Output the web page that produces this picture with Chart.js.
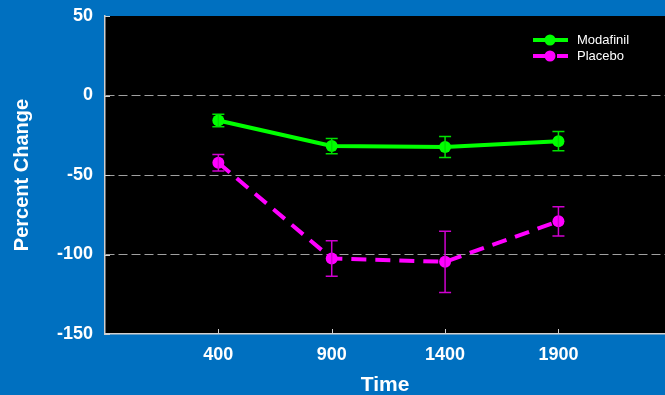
<!DOCTYPE html>
<html>
<head>
<meta charset="utf-8">
<script src="https://cdn.jsdelivr.net/npm/chart.js@4/dist/chart.umd.min.js"></script>
<style>
  html, body { margin: 0; padding: 0; background: #0070c0; overflow: hidden; }
  #wrap { width: 665px; height: 395px; overflow: hidden; }
</style>
</head>
<body>
<div id="wrap"><canvas id="c" width="671" height="395"></canvas></div>
<script>
// Time points (x) and percent change (mean, +/- error) for each group
const times = [400, 900, 1400, 1900];
const modafinilMean = [-15.7, -31.8, -32.4, -28.7];
const modafinilErr = [3.9, 4.8, 6.6, 6.1];
const placeboMean = [-42.3, -102.5, -104.6, -79.1];
const placeboErr = [5.2, 11.2, 19.3, 9.2];
const xTickValues = [400, 900, 1400, 1900];
const yTickValues = [50, 0, -50, -100, -150];

const FONT = "'Liberation Sans', Arial, sans-serif";

const toPoints = (xs, ys) => xs.map((x, i) => ({ x: x, y: ys[i] }));

// Black plot background, inward tick marks and error bars
const plotDecor = {
  id: 'plotDecor',
  beforeDraw(chart) {
    const { ctx, chartArea: a } = chart;
    ctx.save();
    ctx.fillStyle = '#000000';
    ctx.fillRect(a.left, a.top, a.right - a.left, a.bottom - a.top);
    ctx.restore();
  },
  afterDatasetsDraw(chart) {
    const { ctx, chartArea: a, scales } = chart;
    ctx.save();
    // small tick marks pointing into the plot
    ctx.strokeStyle = '#d0d0d0';
    ctx.lineWidth = 1;
    xTickValues.forEach(v => {
      const px = Math.round(scales.x.getPixelForValue(v)) + 0.5;
      ctx.beginPath();
      ctx.moveTo(px, a.bottom);
      ctx.lineTo(px, a.bottom - 5);
      ctx.stroke();
    });
    yTickValues.forEach(v => {
      const py = Math.round(scales.y.getPixelForValue(v)) + 0.5;
      ctx.beginPath();
      ctx.moveTo(a.left, py);
      ctx.lineTo(a.left + 5, py);
      ctx.stroke();
    });
    // error bars
    chart.data.datasets.forEach(ds => {
      ctx.strokeStyle = ds.errColor;
      ctx.lineWidth = 1.5;
      ds.data.forEach((p, i) => {
        const px = scales.x.getPixelForValue(p.x);
        const top = scales.y.getPixelForValue(p.y + ds.err[i]);
        const bot = scales.y.getPixelForValue(p.y - ds.err[i]);
        ctx.beginPath();
        ctx.moveTo(px, top); ctx.lineTo(px, bot);
        ctx.moveTo(px - 6, top); ctx.lineTo(px + 6, top);
        ctx.moveTo(px - 6, bot); ctx.lineTo(px + 6, bot);
        ctx.stroke();
      });
    });
    ctx.restore();
  },
  afterDraw(chart) {
    // legend in the upper right of the plot
    const { ctx } = chart;
    ctx.save();
    ctx.font = '13px ' + FONT;
    ctx.textBaseline = 'middle';
    chart.data.datasets.forEach((ds, i) => {
      const y = 40 + i * 16;
      ctx.strokeStyle = ds.borderColor;
      ctx.lineWidth = 4;
      ctx.setLineDash(ds.borderDash || []);
      ctx.beginPath();
      ctx.moveTo(533, y); ctx.lineTo(568, y);
      ctx.stroke();
      ctx.setLineDash([]);
      ctx.fillStyle = ds.borderColor;
      ctx.beginPath();
      ctx.arc(550, y, 5.5, 0, Math.PI * 2);
      ctx.fill();
      ctx.fillStyle = '#ffffff';
      ctx.fillText(ds.label, 577, y);
    });
    ctx.restore();
  }
};

new Chart(document.getElementById('c'), {
  type: 'line',
  data: {
    datasets: [
      {
        label: 'Modafinil',
        data: toPoints(times, modafinilMean),
        err: modafinilErr,
        errColor: '#00e000',
        borderColor: '#00ff00',
        backgroundColor: '#00ff00',
        borderWidth: 4,
        pointRadius: 6,
        pointBorderWidth: 0,
        tension: 0
      },
      {
        label: 'Placebo',
        data: toPoints(times, placeboMean),
        err: placeboErr,
        errColor: '#d000d0',
        borderColor: '#ff00ff',
        backgroundColor: '#ff00ff',
        borderWidth: 4,
        borderDash: [15, 9],
        borderCapStyle: 'butt',
        pointRadius: 6,
        pointBorderWidth: 0,
        tension: 0
      }
    ]
  },
  options: {
    responsive: false,
    animation: false,
    devicePixelRatio: 1,
    layout: { padding: { left: 0, right: 0, top: 16, bottom: 0 } },
    plugins: { legend: { display: false }, tooltip: { enabled: false } },
    scales: {
      x: {
        type: 'linear',
        min: -100,
        max: 2370,
        afterBuildTicks: s => { s.ticks = xTickValues.map(v => ({ value: v })); },
        afterFit: s => { s.height = 61; s.paddingLeft = 0; s.paddingRight = 0; },
        grid: { display: false, drawTicks: false },
        border: { display: true, color: '#d0d0d0', width: 1.5 },
        ticks: {
          color: '#ffffff',
          font: { family: FONT, size: 18, weight: 'bold' },
          padding: 10,
          maxRotation: 0,
          callback: v => String(v)
        },
        title: {
          display: true,
          text: 'Time',
          color: '#ffffff',
          font: { family: FONT, size: 21, weight: 'bold' },
          padding: { top: 0, bottom: -3 }
        }
      },
      y: {
        min: -150,
        max: 50,
        afterBuildTicks: s => { s.ticks = yTickValues.map(v => ({ value: v })); },
        afterFit: s => { s.width = 105; s.paddingTop = 0; s.paddingBottom = 0; },
        grid: {
          drawTicks: false,
          color: ctx => (ctx.tick && (ctx.tick.value === 50 || ctx.tick.value === -150)) ? 'rgba(0,0,0,0)' : '#a0a0a0',
          lineWidth: 1
        },
        border: { display: true, color: '#d0d0d0', width: 1.5, dash: [9, 4] },
        ticks: {
          color: '#ffffff',
          font: { family: FONT, size: 18, weight: 'bold' },
          padding: 12,
          callback: v => String(v)
        },
        title: {
          display: true,
          text: 'Percent Change',
          color: '#ffffff',
          font: { family: FONT, size: 20, weight: 'bold' },
          padding: { top: 10, bottom: 0 }
        }
      }
    }
  },
  plugins: [plotDecor]
});
</script>
</body>
</html>
